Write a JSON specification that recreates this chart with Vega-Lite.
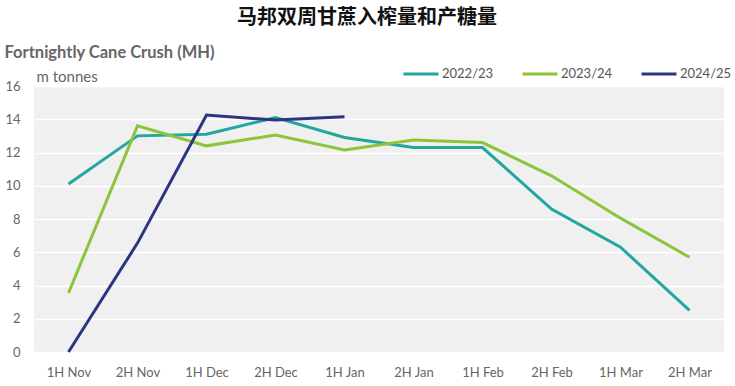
{
  "$schema": "https://vega.github.io/schema/vega-lite/v6.json",
  "width": 690,
  "height": 266,
  "autosize": {"type": "none"},
  "padding": {"left": 34, "top": 86, "right": 11, "bottom": 34},
  "background": "white",
  "title": {
    "text": "马邦双周甘蔗入榨量和产糖量",
    "font": "Noto Sans CJK SC",
    "fontSize": 20,
    "fontWeight": "bold",
    "color": "#111111",
    "anchor": "middle",
    "frame": "group",
    "dx": -12,
    "offset": 16
  },
  "config": {
    "view": {"fill": "#f0f0f0", "stroke": null},
    "font": "Lato"
  },
  "data": {
    "values": [
      {"period": "1H Nov", "season": "2022/23", "value": 10.1},
      {"period": "2H Nov", "season": "2022/23", "value": 13.0},
      {"period": "1H Dec", "season": "2022/23", "value": 13.1},
      {"period": "2H Dec", "season": "2022/23", "value": 14.1},
      {"period": "1H Jan", "season": "2022/23", "value": 12.9},
      {"period": "2H Jan", "season": "2022/23", "value": 12.3},
      {"period": "1H Feb", "season": "2022/23", "value": 12.3},
      {"period": "2H Feb", "season": "2022/23", "value": 8.6},
      {"period": "1H Mar", "season": "2022/23", "value": 6.3},
      {"period": "2H Mar", "season": "2022/23", "value": 2.5},
      {"period": "1H Nov", "season": "2023/24", "value": 3.55},
      {"period": "2H Nov", "season": "2023/24", "value": 13.6},
      {"period": "1H Dec", "season": "2023/24", "value": 12.4},
      {"period": "2H Dec", "season": "2023/24", "value": 13.05},
      {"period": "1H Jan", "season": "2023/24", "value": 12.15},
      {"period": "2H Jan", "season": "2023/24", "value": 12.75},
      {"period": "1H Feb", "season": "2023/24", "value": 12.6},
      {"period": "2H Feb", "season": "2023/24", "value": 10.6},
      {"period": "1H Mar", "season": "2023/24", "value": 8.05},
      {"period": "2H Mar", "season": "2023/24", "value": 5.7},
      {"period": "1H Nov", "season": "2024/25", "value": 0.0},
      {"period": "2H Nov", "season": "2024/25", "value": 6.55},
      {"period": "1H Dec", "season": "2024/25", "value": 14.25},
      {"period": "2H Dec", "season": "2024/25", "value": 13.95},
      {"period": "1H Jan", "season": "2024/25", "value": 14.15}
    ]
  },
  "mark": {"type": "line", "strokeWidth": 3, "strokeCap": "butt"},
  "encoding": {
    "x": {
      "field": "period",
      "type": "ordinal",
      "sort": ["1H Nov", "2H Nov", "1H Dec", "2H Dec", "1H Jan", "2H Jan", "1H Feb", "2H Feb", "1H Mar", "2H Mar"],
      "scale": {"type": "point", "padding": 0.5},
      "axis": {
        "title": "Fortnightly Cane Crush (MH)",
        "titleFont": "Lato",
        "titleFontSize": 16.5,
        "titleFontWeight": "bold",
        "titleColor": "#666666",
        "titleAnchor": "start",
        "titleAlign": "left",
        "titleBaseline": "alphabetic",
        "titleX": -30,
        "titleY": -295,
        "labelAngle": 0,
        "labelFontSize": 13,
        "labelColor": "#666666",
        "labelPadding": 14,
        "ticks": false,
        "domain": false,
        "grid": false
      }
    },
    "y": {
      "field": "value",
      "type": "quantitative",
      "scale": {"domain": [0, 16], "nice": false},
      "axis": {
        "title": "m tonnes",
        "titleAngle": 0,
        "titleFont": "Lato",
        "titleFontSize": 15,
        "titleFontWeight": "normal",
        "titleColor": "#666666",
        "titleAlign": "left",
        "titleBaseline": "alphabetic",
        "titleX": 2,
        "titleY": -5,
        "values": [0, 2, 4, 6, 8, 10, 12, 14, 16],
        "labelFontSize": 13,
        "labelColor": "#666666",
        "labelPadding": 14,
        "ticks": false,
        "domain": false,
        "grid": true,
        "gridColor": "#ffffff",
        "gridWidth": 1.5
      }
    },
    "color": {
      "field": "season",
      "type": "nominal",
      "scale": {"domain": ["2022/23", "2023/24", "2024/25"], "range": ["#22a79e", "#8cc43c", "#2b3581"]},
      "legend": {
        "title": null,
        "orient": "none",
        "legendX": 368,
        "legendY": -31,
        "direction": "horizontal",
        "symbolType": "stroke",
        "symbolStrokeWidth": 3,
        "symbolSize": 1225,
        "labelFontSize": 13,
        "labelColor": "#555555",
        "labelOffset": 2,
        "columnPadding": 22
      }
    }
  }
}
